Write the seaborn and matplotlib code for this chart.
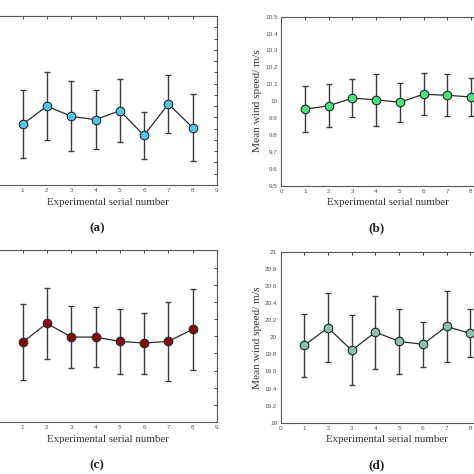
import matplotlib
matplotlib.use("Agg")
import matplotlib.pyplot as plt
import seaborn as sns
import numpy as np
import pandas as pd

# experimental serial numbers (x axis)
serial = [1, 2, 3, 4, 5, 6, 7, 8]

# (a) ~5 m/s case
mean_a = [5.04, 5.20, 5.11, 5.08, 5.16, 4.94, 5.22, 5.01]
err_a = [0.30, 0.30, 0.31, 0.26, 0.28, 0.21, 0.26, 0.30]

# (b) ~10 m/s case
mean_b = [9.953, 9.973, 10.018, 10.008, 9.994, 10.041, 10.035, 10.025]
err_b = [0.135, 0.126, 0.113, 0.154, 0.115, 0.123, 0.125, 0.115]

# (c) ~15 m/s case
mean_c = [14.93, 15.15, 14.99, 14.99, 14.94, 14.92, 14.94, 15.08]
err_c = [0.44, 0.41, 0.36, 0.345, 0.38, 0.355, 0.46, 0.47]

# (d) ~20 m/s case
mean_d = [19.905, 20.111, 19.847, 20.060, 19.952, 19.917, 20.126, 20.045]
err_d = [0.37, 0.405, 0.41, 0.427, 0.38, 0.266, 0.415, 0.28]

x_ticks = list(range(0, 10))
x_label = "Experimental serial number"
y_label = "Mean wind speed/ m/s"

sns.set_style("white")
plt.rcParams['font.family'] = ['Liberation Serif', 'DejaVu Serif']

fig = plt.figure(figsize=(4.74, 4.74), dpi=100)

panels = [
    # rect, mean, err, marker colour, ylim, ystep, tag, tag position, left panel (cut off)
    ([-0.0034, 0.6097, 0.461, 0.3565], mean_a, err_a, '#52C6E2', (4.5, 6.0), 0.1, '(a)', (0.204, 0.519), True),
    ([0.5935, 0.6080, 0.450, 0.3570], mean_b, err_b, '#4FE07C', (9.5, 10.5), 0.1, '(b)', (0.795, 0.519), False),
    ([-0.0034, 0.1097, 0.461, 0.3620], mean_c, err_c, '#8A0B0E', (14.0, 16.0), 0.2, '(c)', (0.204, 0.019), True),
    ([0.5920, 0.1080, 0.450, 0.3610], mean_d, err_d, '#8DBFAA', (19.0, 21.0), 0.2, '(d)', (0.795, 0.019), False),
]

for rect, mean, err, color, ylim, ystep, tag, tag_xy, cut_left in panels:
    ax = fig.add_axes(rect)
    df = pd.DataFrame({'serial': serial, 'mean': mean, 'err': err})

    ax.errorbar(df['serial'], df['mean'], yerr=df['err'], fmt='none',
                ecolor='#3c3c3c', elinewidth=1.0, capsize=2.2, capthick=1.0, zorder=2)
    sns.lineplot(data=df, x='serial', y='mean', ax=ax, color='#2b2b2b', linewidth=0.9,
                 marker='o', markersize=6.2, markerfacecolor=color,
                 markeredgecolor='#1c2a2c', markeredgewidth=0.8, zorder=3)

    ax.set_xlim(0, 9)
    ax.set_ylim(*ylim)
    ax.set_xticks(x_ticks)
    ax.set_yticks(np.round(np.arange(ylim[0], ylim[1] + ystep / 2, ystep), 2))
    ax.yaxis.set_major_formatter(matplotlib.ticker.FormatStrFormatter('%g'))

    ax.tick_params(direction='in', length=2.5, width=0.7, top=True, right=True,
                   labelsize=4.6, labelcolor='#555555', color='#444444', pad=2.5,
                   labelfontfamily='Liberation Sans')
    for sp in ax.spines.values():
        sp.set_color('#555555')
        sp.set_linewidth(0.8)

    ax.set_xlabel(x_label, fontsize=7.8, color='#333333', labelpad=3)
    if cut_left:
        # the left side of these panels lies outside the cropped picture
        ax.tick_params(labelleft=False)
        ax.set_xticklabels([''] + [str(t) for t in x_ticks[1:]])
        ax.set_ylabel('')
    else:
        ax.set_ylabel(y_label, fontsize=8.2, color='#333333', labelpad=2)

    fig.text(tag_xy[0], tag_xy[1], tag, fontsize=9.5, fontweight='bold',
             ha='center', va='center', color='#222222')

fig.savefig('out.png', dpi=100, facecolor='white')
